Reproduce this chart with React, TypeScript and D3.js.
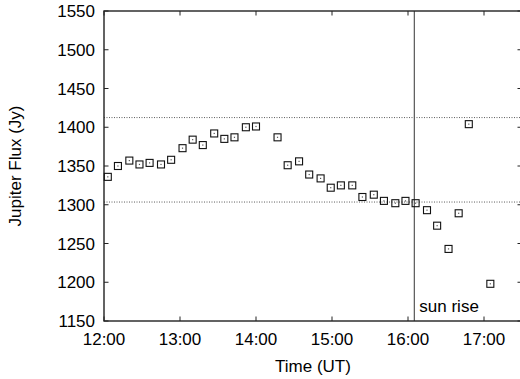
import { useEffect, useRef } from "react";
import * as d3 from "d3";

const times = [
  "12:03", "12:11", "12:20", "12:28", "12:36", "12:45", "12:53", "13:02", "13:10", "13:18",
  "13:27", "13:35", "13:43", "13:52", "14:00", "14:17", "14:25", "14:34", "14:42", "14:51",
  "14:59", "15:07", "15:16", "15:24", "15:33", "15:41", "15:50", "15:58", "16:06", "16:15",
  "16:23", "16:32", "16:40", "16:48", "17:05",
];
const flux = [
  1336, 1350, 1357, 1352, 1354, 1352, 1358, 1373, 1384, 1377,
  1392, 1385, 1387, 1400, 1401, 1387, 1351, 1356, 1339, 1334,
  1322, 1325, 1325, 1310, 1313, 1305, 1302, 1305, 1302, 1293,
  1273, 1243, 1289, 1404, 1198,
];
const xTicks = ["12:00", "13:00", "14:00", "15:00", "16:00", "17:00"];
const yTicks = [1150, 1200, 1250, 1300, 1350, 1400, 1450, 1500, 1550];
const refLevels = [1412.5, 1303.5];
const sunRise = "16:05";

const toHours = (s: string) => {
  const [h, m] = s.split(":").map(Number);
  return h + m / 60;
};

const App = () => {
  const svgRef = useRef<SVGSVGElement>(null);

  useEffect(() => {
    const width = 520;
    const height = 379;
    const margin = { top: 11, right: -2, bottom: 58, left: 104 };
    const font = "'Liberation Sans', Arial, Helvetica, sans-serif";
    const fs = 17;

    const svg = d3.select(svgRef.current);
    svg.selectAll("*").remove();

    const x = d3.scaleLinear()
      .domain([12, 17.5])
      .range([margin.left, width - margin.right]);

    const y = d3.scaleLinear()
      .domain([1150, 1550])
      .range([height - margin.bottom, margin.top]);

    const x0 = x(12), x1 = x(17.5), y0 = y(1150), y1 = y(1550);
    const tick = 4.5;

    // dotted reference levels
    svg.append("g")
      .selectAll("line")
      .data(refLevels)
      .join("line")
        .attr("x1", x0).attr("x2", x1)
        .attr("y1", (d) => y(d)).attr("y2", (d) => y(d))
        .attr("stroke", "#333")
        .attr("stroke-width", 0.8)
        .attr("stroke-dasharray", "1,1.5");

    // sunrise line
    svg.append("line")
      .attr("x1", x(toHours(sunRise))).attr("x2", x(toHours(sunRise)))
      .attr("y1", y0).attr("y2", y1)
      .attr("stroke", "#555")
      .attr("stroke-width", 1.2);

    svg.append("text")
      .attr("x", x(toHours(sunRise)) + 5)
      .attr("y", y0 - 9)
      .attr("font-family", font)
      .attr("font-size", fs)
      .text("sun rise");

    // ticks (inward, mirrored)
    const tg = svg.append("g").attr("stroke", "#222").attr("stroke-width", 1);
    xTicks.forEach((t) => {
      const xx = x(toHours(t));
      tg.append("line").attr("x1", xx).attr("x2", xx).attr("y1", y0).attr("y2", y0 - tick);
      tg.append("line").attr("x1", xx).attr("x2", xx).attr("y1", y1).attr("y2", y1 + tick);
    });
    yTicks.forEach((v) => {
      tg.append("line").attr("x1", x0).attr("x2", x0 + tick).attr("y1", y(v)).attr("y2", y(v));
      tg.append("line").attr("x1", x1).attr("x2", x1 - tick).attr("y1", y(v)).attr("y2", y(v));
    });

    // border
    svg.append("rect")
      .attr("x", x0).attr("y", y1)
      .attr("width", x1 - x0).attr("height", y0 - y1)
      .attr("fill", "none")
      .attr("stroke", "#222")
      .attr("stroke-width", 1.4);

    // tick labels
    svg.append("g")
      .attr("font-family", font)
      .attr("font-size", fs)
      .attr("text-anchor", "middle")
      .selectAll("text")
      .data(xTicks)
      .join("text")
        .attr("x", (d) => x(toHours(d)))
        .attr("y", y0 + 24)
        .text((d) => d);

    svg.append("g")
      .attr("font-family", font)
      .attr("font-size", fs)
      .attr("text-anchor", "end")
      .selectAll("text")
      .data(yTicks)
      .join("text")
        .attr("x", x0 - 9)
        .attr("y", (d) => y(d) + 6)
        .text((d) => d);

    // axis titles
    svg.append("text")
      .attr("x", (x0 + x1) / 2)
      .attr("y", height - 7)
      .attr("text-anchor", "middle")
      .attr("font-family", font)
      .attr("font-size", fs)
      .text("Time (UT)");

    svg.append("text")
      .attr("transform", `translate(21, ${(y0 + y1) / 2}) rotate(-90)`)
      .attr("text-anchor", "middle")
      .attr("font-family", font)
      .attr("font-size", fs)
      .text("Jupiter Flux (Jy)");

    // points: open square with a dot in the middle
    const data = times.map((t, i) => ({ t: toHours(t), v: flux[i] }));
    const pts = svg.append("g")
      .selectAll("g")
      .data(data)
      .join("g")
        .attr("transform", (d) => `translate(${x(d.t)}, ${y(d.v)})`);
    pts.append("rect")
      .attr("x", -3.5).attr("y", -3.5)
      .attr("width", 7).attr("height", 7)
      .attr("fill", "none")
      .attr("stroke", "#111")
      .attr("stroke-width", 1.1);
    pts.append("rect")
      .attr("x", -0.6).attr("y", -0.6)
      .attr("width", 1.2).attr("height", 1.2)
      .attr("fill", "#555");
  }, []);

  return (
    <svg
      ref={svgRef}
      width={520}
      height={379}
      style={{ position: "absolute", left: 0, top: 0, background: "white" }}
    />
  );
};

export default App;
